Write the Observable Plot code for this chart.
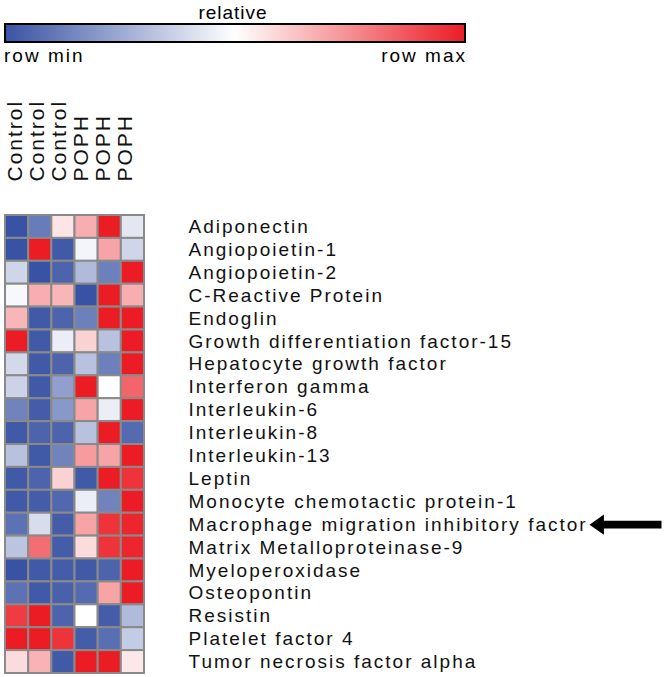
<!DOCTYPE html>
<html>
<head>
<meta charset="utf-8">
<script src="https://cdn.jsdelivr.net/npm/d3@7"></script>
<script src="https://cdn.jsdelivr.net/npm/@observablehq/plot@0.6"></script>
<style>
  html, body { margin: 0; padding: 0; background: #fff; }
  body { width: 666px; height: 677px; overflow: hidden; font-family: "Liberation Sans", Arial, sans-serif; }
  #legend { height: 70px; display: block; }
  svg { display: block; }
</style>
</head>
<body>
<div id="legend"></div>
<div id="chart"></div>
<script>
// ---- data ----
const columnLabels = ["Control", "Control", "Control", "POPH", "POPH", "POPH"];
const proteins = [
  "Adiponectin",
  "Angiopoietin-1",
  "Angiopoietin-2",
  "C-Reactive Protein",
  "Endoglin",
  "Growth differentiation factor-15",
  "Hepatocyte growth factor",
  "Interferon gamma",
  "Interleukin-6",
  "Interleukin-8",
  "Interleukin-13",
  "Leptin",
  "Monocyte chemotactic protein-1",
  "Macrophage migration inhibitory factor",
  "Matrix Metalloproteinase-9",
  "Myeloperoxidase",
  "Osteopontin",
  "Resistin",
  "Platelet factor 4",
  "Tumor necrosis factor alpha"
];
// relative value per row: 0 = row min, 1 = row max
const relativeValues = [
  [0.00, 0.12, 0.56, 0.68, 1.00, 0.43],
  [0.00, 1.00, 0.02, 0.47, 0.70, 0.38],
  [0.38, 0.00, 0.05, 0.30, 0.13, 1.00],
  [0.48, 0.68, 0.66, 0.00, 1.00, 0.68],
  [0.66, 0.02, 0.05, 0.13, 1.00, 1.00],
  [1.00, 0.02, 0.45, 0.60, 0.32, 1.00],
  [0.39, 0.02, 0.05, 0.32, 0.13, 1.00],
  [0.37, 0.02, 0.22, 1.00, 0.50, 0.84],
  [0.14, 0.03, 0.20, 0.70, 0.45, 1.00],
  [0.02, 0.05, 0.05, 0.32, 1.00, 0.07],
  [0.32, 0.02, 0.14, 0.72, 0.70, 1.00],
  [0.02, 0.05, 0.60, 0.02, 1.00, 0.95],
  [0.02, 0.03, 0.06, 0.45, 0.14, 1.00],
  [0.09, 0.40, 0.03, 0.70, 0.95, 0.98],
  [0.33, 0.82, 0.03, 0.58, 0.95, 0.98],
  [0.00, 0.02, 0.03, 0.02, 0.05, 1.00],
  [0.09, 0.02, 0.04, 0.07, 0.70, 1.00],
  [0.93, 1.00, 0.05, 0.50, 0.03, 0.30],
  [1.00, 1.00, 0.95, 0.03, 0.08, 0.35],
  [0.58, 0.67, 0.02, 1.00, 1.00, 0.55]
];
const legendTitle = "relative";
const legendMin = "row min";
const legendMax = "row max";
const highlighted = "Macrophage migration inhibitory factor";

// ---- build table ----
const columnIds = columnLabels.map((d, i) => i);
const cells = [];
proteins.forEach((p, r) => columnIds.forEach(c => cells.push({protein: p, col: c, value: relativeValues[r][c]})));

const colorDomain = [0, 0.5, 1];
const colorRange = ["#3953a4", "#ffffff", "#ec1c24"];
const colorScale = d3.scaleLinear().domain(colorDomain).range(colorRange).interpolate(d3.interpolateRgb);

const font = '"Liberation Sans", Arial, sans-serif';

// ---- legend ----
(function () {
  const svg = d3.select("#legend").append("svg").attr("width", 666).attr("height", 70)
    .style("font-family", font);
  const grad = svg.append("defs").append("linearGradient").attr("id", "g");
  d3.range(0, 1.0001, 0.05).forEach(t => grad.append("stop").attr("offset", t).attr("stop-color", colorScale(t)));
  svg.append("rect").attr("x", 5).attr("y", 24).attr("width", 460).attr("height", 18)
    .attr("fill", "url(#g)").attr("stroke", "#000").attr("stroke-width", 2);
  svg.append("text").attr("x", 233).attr("y", 19).attr("text-anchor", "middle")
    .attr("font-size", 19).style("letter-spacing", "1px").text(legendTitle);
  svg.append("text").attr("x", 4).attr("y", 62).attr("font-size", 19).style("letter-spacing", "2px").text(legendMin);
  svg.append("text").attr("x", 467).attr("y", 62).attr("text-anchor", "end").attr("font-size", 19).style("letter-spacing", "2px").text(legendMax);
})();

// ---- arrow symbol ----
const arrowSymbol = {
  draw(context, size) {
    const r = Math.sqrt(size / Math.PI);
    const L = r, hl = r * 0.4, hh = r * 0.28, sh = r * 0.11;
    context.moveTo(-L, 0);
    context.lineTo(-L + hl, -hh);
    context.lineTo(-L + hl, -sh);
    context.lineTo(L, -sh);
    context.lineTo(L, sh);
    context.lineTo(-L + hl, sh);
    context.lineTo(-L + hl, hh);
    context.closePath();
  }
};

// ---- chart ----
const headerMarks = columnIds.map(i =>
  Plot.text([i], {x: d => d, text: d => columnLabels[d], frameAnchor: "top", dy: -34, dx: -10 - i * 1.2,
    rotate: -90, textAnchor: "start", fontSize: 21, fill: "#111"}));

const chart = Plot.plot({
  width: 666,
  height: 607,
  marginTop: 145,
  marginBottom: 4,
  marginLeft: 5,
  marginRight: 522,
  style: {fontFamily: font, background: "#fff", overflow: "visible"},
  x: {type: "band", domain: columnIds, padding: 0, round: false, axis: null},
  y: {type: "band", domain: proteins, padding: 0, round: false, axis: null},
  color: {type: "linear", domain: colorDomain, range: colorRange, interpolate: "rgb"},
  marks: [
    Plot.cell(cells, {x: "col", y: "protein", fill: "value", stroke: "#8a8a8a", strokeWidth: 2, inset: 0}),
    Plot.text(proteins, {y: d => d, text: d => d, frameAnchor: "right", dx: 44, textAnchor: "start",
      fontSize: 19, fill: "#111", lineAnchor: "middle"}),
    ...headerMarks,
    Plot.dot([highlighted], {y: d => d, frameAnchor: "right", dx: 481, symbol: arrowSymbol, r: 36,
      fill: "#000", stroke: null})
  ]
});
chart.querySelectorAll("text").forEach(t => t.style.letterSpacing = "2px");
document.getElementById("chart").appendChild(chart);
</script>
</body>
</html>
